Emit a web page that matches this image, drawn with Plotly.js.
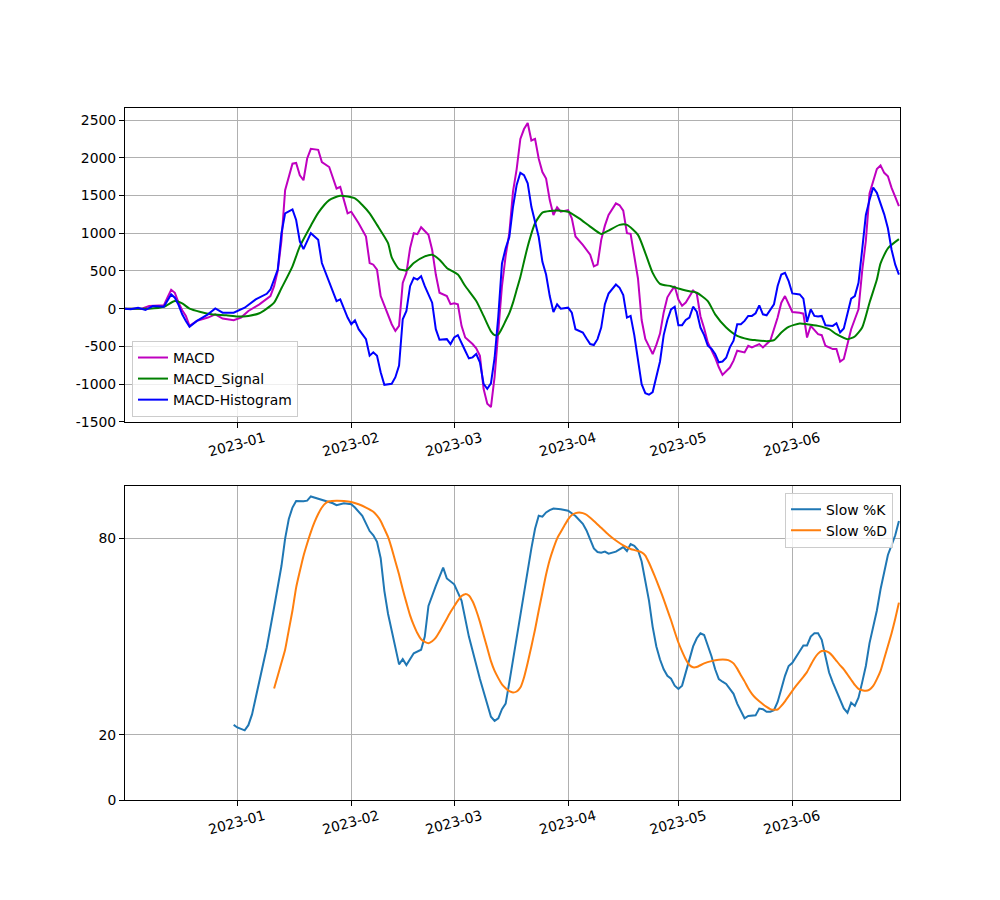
<!DOCTYPE html>
<html>
<head>
<meta charset="utf-8">
<script src="https://cdn.plot.ly/plotly-3.0.1.min.js"></script>
<style>
  html, body { margin: 0; padding: 0; background: #ffffff; }
  #chart { width: 1000px; height: 900px; }
</style>
</head>
<body>
<div id="chart"></div>
<script>
// Day offsets are counted from 2022-12-01 (day 0).
const startDate = '2022-12-01';

const macdDays = [0,3,5,7,11,12,13,14,15,16,17,18,20,23,25,27,30,32,34,37,40,41,42,43,44,46,47,48,49,50,51,53,54,56,57,58,59,60,61,62,64,66,67,68,69,70,72,73,74,75,76,77,78,79,80,81,83,84,85,86,88,89,90,91,92,93,95,96,97,98,99,100,101,102,103,104,105,106,107,108,109,110,111,112,113,114,115,116,117,118,119,121,122,123,125,127,128,129,130,131,132,134,135,136,137,138,140,141,142,143,144,145,146,147,148,149,150,151,152,153,155,156,157,158,159,160,161,162,163,165,166,167,169,170,171,173,174,175,176,178,179,180,181,182,184,185,186,187,189,190,191,193,194,195,196,198,199,200,201,202,203,204,205,206,207,208,209,210,211];
const macdValues = [0,5,0,35,44,150,250,210,80,-20,-96,-228,-162,-118,-75,-131,-153,-118,-30,57,167,298,500,900,1570,1921,1930,1768,1702,1990,2118,2105,1943,1877,1746,1592,1614,1439,1263,1285,1132,956,605,583,518,167,-96,-206,-294,-228,342,474,803,1000,987,1079,978,781,452,211,167,60,70,57,-228,-382,-469,-526,-623,-1061,-1259,-1303,-900,-300,300,700,1000,1550,1850,2250,2380,2460,2228,2250,1987,1811,1724,1439,1241,1342,1285,1307,1197,956,846,715,561,583,912,1100,1241,1395,1370,1300,1000,991,400,-150,-400,-500,-601,-480,-330,-50,150,230,298,120,40,80,240,200,-100,-260,-447,-550,-650,-776,-877,-780,-689,-557,-579,-491,-513,-469,-513,-469,-425,-118,79,167,57,-44,-53,-66,-382,-228,-338,-351,-491,-535,-535,-702,-667,-272,-140,-9,500,900,1526,1700,1850,1899,1800,1754,1600,1480,1360];

const signalDays = [0,7,11,14,16,18,21,24,28,31,34,37,39,41,43,46,48,51,53,56,59,63,65,67,69,72,73,75,77,79,82,84,86,88,91,93,96,98,100,101,102,103,104,105,106,107,108,110,112,114,116,119,121,124,127,130,132,135,137,140,142,144,146,149,151,154,156,159,161,164,167,170,172,175,177,179,181,184,186,189,192,194,197,199,201,203,205,206,208,211];
const signalValues = [0,0,26,101,70,0,-44,-75,-88,-105,-96,-61,0,79,270,561,825,1100,1270,1439,1496,1461,1373,1263,1110,868,680,526,509,605,693,715,649,539,452,300,101,-96,-300,-350,-340,-260,-160,-60,80,250,420,825,1132,1272,1294,1298,1285,1197,1088,991,1035,1110,1110,978,737,474,329,298,268,232,211,101,-75,-250,-360,-404,-417,-430,-417,-316,-241,-197,-206,-228,-272,-338,-404,-368,-250,79,386,600,800,921];

const histDays = [0,2,4,6,8,11,13,14,15,16,17,18,20,23,25,27,30,33,36,39,40,42,43,44,46,47,48,49,51,53,54,56,58,59,61,62,63,64,66,67,68,69,70,71,73,74,75,76,77,78,79,80,81,82,84,85,86,88,89,90,91,93,94,95,96,97,98,99,100,101,102,103,104,105,106,107,108,109,110,111,112,113,114,115,116,117,118,119,121,122,123,125,126,127,128,129,130,131,132,133,134,135,136,137,138,139,140,141,142,143,144,145,146,147,148,149,150,151,152,153,154,155,156,157,158,159,160,161,162,163,164,165,166,167,168,169,170,171,172,173,174,175,176,177,178,179,180,181,182,184,185,186,187,188,189,190,191,193,194,195,196,198,199,200,201,202,203,204,205,206,207,208,209,210,211];
const histValues = [0,-9,13,-18,35,26,189,145,50,-75,-162,-241,-162,-75,4,-53,-53,13,123,197,254,518,1000,1263,1316,1175,890,789,1000,912,605,364,101,123,-118,-206,-153,-272,-404,-623,-579,-623,-842,-1009,-996,-908,-754,-140,-31,298,408,386,430,298,79,-272,-412,-404,-469,-382,-351,-557,-658,-645,-601,-711,-996,-1061,-990,-650,-100,600,800,950,1350,1640,1800,1770,1660,1350,1154,950,620,452,167,-44,57,0,13,-53,-272,-316,-395,-469,-482,-404,-250,60,200,254,320,276,180,-118,-96,-350,-650,-1000,-1120,-1140,-1105,-900,-700,-350,-150,-9,26,-219,-219,-150,-118,26,-40,-250,-350,-491,-530,-600,-711,-700,-650,-513,-425,-206,-206,-162,-96,-96,-61,44,-75,-88,-9,57,300,452,474,364,202,189,132,-175,-9,-96,-105,-96,-219,-228,-193,-316,-263,132,167,342,781,1241,1439,1605,1535,1395,1250,1066,781,583,452];

const slowKDays = [30,31,33,34,35,37,39,41,43,44,45,46,47,49,50,51,53,54,56,57,58,60,62,63,65,67,68,69,70,71,72,73,74,75,76,77,79,81,82,83,85,86,87,88,90,92,94,97,99,100,101,102,103,104,105,106,107,108,109,110,111,112,113,114,115,116,117,119,121,123,125,126,127,128,129,130,131,132,134,135,136,137,138,139,140,141,142,143,144,145,146,147,148,149,150,151,152,153,154,155,156,157,158,159,160,161,162,163,164,165,166,167,168,169,170,172,173,174,175,176,177,178,179,180,181,182,184,185,186,187,188,189,190,191,192,193,194,195,196,197,198,199,200,201,202,203,204,205,206,207,208,209,210,211];
const slowKValues = [23.0,22.2,21.3,22.9,26.2,35.9,46.6,58.9,71.6,80,86,89.5,91.5,91.4,91.6,92.9,92.2,92,91.2,90.8,90.2,90.8,90.5,89.5,87,82.3,81,79,74,64,57,52,46,41.5,43.1,41.3,44.9,46,50,59.4,65.5,68.6,71.1,67.8,66,61,50,37,29.8,25.5,24.2,25,27.8,29.5,36,43,49,57,64,71,77,83,87,86.7,88,88.7,89.2,89,88.5,86.9,84.5,82.5,79.5,77,75.9,75.7,76,75.4,76,76.7,77.4,76.2,78.3,77.8,76.5,73,67,61,53,47,43,40,38,37.1,35,34,35,39,43,47,49.5,51,50.5,47.5,44,40,37,36.2,35.5,34,32.5,29.5,27,25,25.7,25.9,28,27.8,27,27,27.5,30,34,38,41,42,45.5,47.3,47.3,50,51,51,49,44,39,36,33.5,30.5,28,26.7,29.8,28.8,31.3,36,41,48,52.8,58,64.5,70,75,78,81,85.4];

const slowDDays = [41,42,43,44,45,46,47,48,49,50,51,52,53,54,55,56,58,60,62,64,66,68,69,70,71,72,73,74,75,76,77,78,79,80,81,82,83,84,85,86,87,88,89,90,91,92,93,94,95,96,97,98,99,100,101,102,103,104,105,106,107,108,109,110,111,112,113,114,115,116,117,118,119,120,121,122,123,124,125,126,128,130,132,134,136,138,140,141,142,143,144,145,146,147,148,149,150,151,152,153,154,155,156,158,160,162,164,165,166,167,168,169,170,171,172,173,174,175,176,177,178,179,180,181,182,183,184,185,186,187,188,189,190,191,192,193,194,195,196,197,198,199,200,201,202,203,204,205,206,207,208,209,210,211];
const slowDValues = [34.1,38,42,46,52,58,65,70,74.7,78.5,82,85,87.5,89.5,90.8,91.4,91.6,91.5,91.2,90.5,89.5,88.2,87,85.4,83,80.5,77,73,69,64.5,60.4,56.5,53.5,51,49.2,48.4,48,48.6,49.7,51.5,53.5,55.5,57.5,59.3,61,62.4,63,62.6,60.8,58,54.5,50.5,46.5,42.5,39.5,37.3,35.4,34.2,33.3,32.9,33.2,34.4,37.5,42,47,52.2,58,63.5,69,73.5,77,80,82,84,85.9,87.2,87.8,88,87.8,87.3,85.4,83.3,81.2,79.4,77.9,76.8,76.2,75.8,74.8,72.6,70,67.3,64.4,61.4,58.2,55,51.5,48.2,45.5,43.1,41.3,40.6,40.7,41.8,42.5,42.9,42.9,42.6,41.8,40.2,38.2,36.3,34.2,32.5,31.2,30.2,29.3,28.5,27.8,27.6,27.7,28.8,30.2,31.8,33.4,34.9,36.3,37.7,39.2,41.3,43.3,44.8,45.6,45.6,45.1,44,42.6,41.2,40,38.4,36.8,35.2,34,33.6,33.4,33.8,34.9,37,39.5,43.3,47.1,51,55.5,60.4];

const monthTicks = ['2023-01-01','2023-02-01','2023-03-01','2023-04-01','2023-05-01','2023-06-01'];
const monthLabels = ['2023-01','2023-02','2023-03','2023-04','2023-05','2023-06'];
const macdTicks = [-1500,-1000,-500,0,500,1000,1500,2000,2500];
const stochTicks = [0,20,80];

const base = Date.parse(startDate + 'T00:00:00Z');
function toDates(days) {
  return days.map(d => new Date(base + d * 86400000).toISOString().slice(0, 10));
}

const FONT = 'DejaVu Sans, Liberation Sans, sans-serif';
const FS = 13.9;

const traces = [
  {x: toDates(macdDays), y: macdValues, name: 'MACD', type: 'scatter', mode: 'lines',
   line: {color: '#bf00bf', width: 2}, xaxis: 'x', yaxis: 'y', legend: 'legend'},
  {x: toDates(signalDays), y: signalValues, name: 'MACD_Signal', type: 'scatter', mode: 'lines',
   line: {color: '#008000', width: 2, shape: 'spline', smoothing: 0.6}, xaxis: 'x', yaxis: 'y', legend: 'legend'},
  {x: toDates(histDays), y: histValues, name: 'MACD-Histogram', type: 'scatter', mode: 'lines',
   line: {color: '#0000ff', width: 2}, xaxis: 'x', yaxis: 'y', legend: 'legend'},
  {x: toDates(slowKDays), y: slowKValues, name: 'Slow %K', type: 'scatter', mode: 'lines',
   line: {color: '#1f77b4', width: 2}, xaxis: 'x2', yaxis: 'y2', legend: 'legend2'},
  {x: toDates(slowDDays), y: slowDValues, name: 'Slow %D', type: 'scatter', mode: 'lines',
   line: {color: '#ff7f0e', width: 2, shape: 'spline', smoothing: 0.5}, xaxis: 'x2', yaxis: 'y2', legend: 'legend2'}
];

const xRange = ['2022-12-01 10:30', '2023-06-30 07:00'];

function xAxis(anchor) {
  return {
    anchor: anchor, range: xRange, type: 'date',
    tickmode: 'array', tickvals: monthTicks, ticktext: monthLabels,
    tickangle: -15, ticklabelshift: 27, ticklabelstandoff: -3,
    showgrid: true, gridcolor: '#b0b0b0', gridwidth: 1,
    showline: true, linecolor: '#000000', linewidth: 1, mirror: true,
    ticks: 'outside', ticklen: 5, tickwidth: 1, tickcolor: '#000000',
    zeroline: false, tickfont: {family: FONT, size: FS, color: '#000000'}
  };
}
function yAxis(anchor, domain, range, ticks) {
  return {
    anchor: anchor, domain: domain, range: range,
    tickmode: 'array', tickvals: ticks, ticktext: ticks.map(String),
    showgrid: true, gridcolor: '#b0b0b0', gridwidth: 1,
    showline: true, linecolor: '#000000', linewidth: 1, mirror: true,
    ticks: 'outside', ticklen: 5, tickwidth: 1, tickcolor: '#000000',
    zeroline: false, tickfont: {family: FONT, size: FS, color: '#000000'}
  };
}

const legendStyle = {
  bgcolor: 'rgba(255,255,255,0.8)', bordercolor: '#cccccc', borderwidth: 1,
  font: {family: FONT, size: FS, color: '#000000'}, itemwidth: 30
};

const layout = {
  width: 1000, height: 900,
  margin: {l: 125, r: 100, t: 108, b: 100, pad: 0},
  paper_bgcolor: '#ffffff', plot_bgcolor: '#ffffff',
  font: {family: FONT, size: FS, color: '#000000'},
  showlegend: true,
  xaxis: xAxis('y'),
  xaxis2: xAxis('y2'),
  yaxis: yAxis('x', [0.5462, 1], [-1502, 2659], macdTicks),
  yaxis2: yAxis('x2', [0, 0.4538], [0, 96.1], stochTicks),
  legend: Object.assign({x: 0.009, y: 0.5535, xanchor: 'left', yanchor: 'bottom'}, legendStyle),
  legend2: Object.assign({x: 0.991, y: 0.444, xanchor: 'right', yanchor: 'top'}, legendStyle)
};

Plotly.newPlot('chart', traces, layout, {displayModeBar: false, staticPlot: true});
</script>
</body>
</html>
